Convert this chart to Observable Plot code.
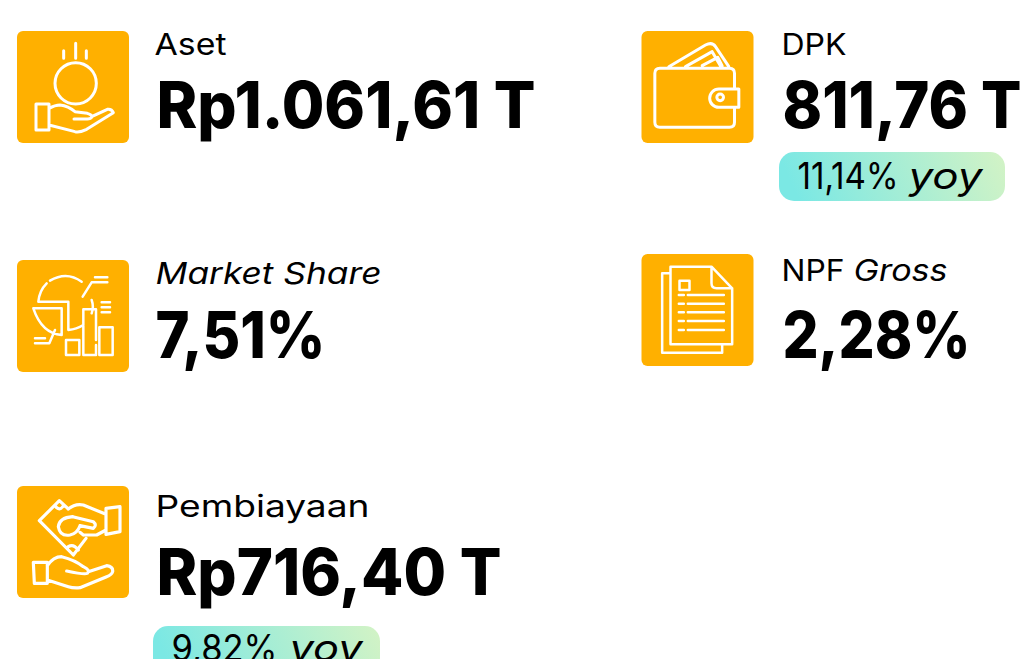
<!DOCTYPE html>
<html><head><meta charset="utf-8">
<script src="https://cdn.jsdelivr.net/npm/d3@7"></script>
<script src="https://cdn.jsdelivr.net/npm/@observablehq/plot@0.6"></script>
<style>html,body{margin:0;padding:0;background:#fff;overflow:hidden}svg{display:block}</style>
</head><body><div id="chart"></div>
<script>
// Chart content
const metrics = ["Aset", "DPK", "Market Share", "NPF", "Pembiayaan"];
const metricSuffix = ["", "", "", "Gross", ""];
const figures = ["Rp1.061,61 T", "811,76 T", "7,51%", "2,28%", "Rp716,40 T"];
const growth = [null, "11,14%", null, null, "9,82%"];
const growthUnit = "yoy";

// Page layout
const tileLeft = [17, 641.5, 17, 641.5, 17];
const tileTop = [31, 31, 260, 254, 486];
const tileSize = 112;
const labelX = [154, 781, 155, 781, 155];
const labelW = [72, 65, 226, 63, 214];
const labelBase = [54, 54, 283.5, 280, 516];
const suffixX = [0, 0, 0, 853, 0];
const suffixW = [0, 0, 0, 94, 0];
const figureX = [156, 782, 155, 782, 156];
const figureW = [379, 239, 170, 188, 345];
const figureBase = [127, 127, 357, 357, 594];
const pillTop = [0, 152, 0, 0, 626];
const pillLeft = [0, 779, 0, 0, 153];
const pillWidth = [0, 226, 0, 0, 227];
const pillHeight = 49;
const growthX = [0, 797, 0, 0, 171];
const growthW = [0, 101, 0, 0, 106];
const unitX = [0, 908, 0, 0, 289];
const unitW = [0, 74, 0, 0, 73];
const growthBase = [0, 188, 0, 0, 660];
const italicLabel = [false, false, true, false, false];

const idx = d3.range(metrics.length);
const pillIdx = idx.filter(i => growth[i]);
const font = "Inter, sans-serif";

// Icon line work, in 3x units, with the tile corner it was measured from
const icons = [
  {o:[51,33], w:9, d:"M191 92V115M227 70V115M259 92V115M289 190A62 62 0 1 1 165 190A62 62 0 1 1 289 190M108 252H147V330H108ZM147 265Q165 255 180 255Q205 258 225 275L262 280Q278 285 275 292Q272 297 262 297H222M275 290L322 268Q335 266 340 278L260 328Q240 338 225 335L147 315"},
  {o:[33,33], w:9, d:"M115 140L225 75Q245 65 255 80L295 140M165 140L245 95L270 138M215 137L262 112L275 138M312 207V160Q312 145 297 145H88Q73 145 73 160V307Q73 322 88 322H297Q312 322 312 307V262M325 207H265A27 27 0 0 0 265 262H325ZM279 232A10 10 0 1 1 259 232A10 10 0 1 1 279 232"},
  {o:[51,30], w:7.5, d:"M115 155Q118 122 140 100M150 92Q200 62 245 95M275 150Q282 170 275 190M250 225Q230 238 205 240V155H115M100 175H185V255Q125 250 100 175M248 140L275 97H322M285 82H322M305 157H330M305 172H330M305 187H330M198 270H238V315H198ZM288 270V178H250V315H288V285M298 232H338V315H298ZM105 265H135M105 280H148L165 240"},
  {o:[33,12], w:7.5, d:"M118 70H95V308H275V283M120 50H243L305 115V283H120ZM243 50V100Q243 115 258 115H305M147 92H177V120H147ZM145 135H160M172 135H280M145 161H160M172 161H280M145 187H160M172 187H280M145 213H160M172 213H280M145 240H160M172 240H280"},
  {o:[51,33], w:9.5, d:"M205 102L178 77L118 137L220 240L258 190M165 92Q178 112 192 90M205 215Q220 205 235 225M205 102Q225 85 250 90L318 118M318 100L360 95V170L318 178ZM318 165L290 180H250L240 172M218 125L280 140Q292 150 280 160L240 152M218 125Q178 128 175 155Q180 185 210 180Q232 175 240 152M240 172L250 180M100 262H142V325H103ZM142 272Q160 245 185 245Q225 255 250 275Q272 285 262 295Q255 300 200 288M265 290L320 272Q340 275 338 290Q335 300 320 305L240 338Q220 340 205 335L142 315"}
];

// Text with its drawn width fitted to the reference, since the original typeface is not installed
const textMark = (data, text, x, y, widths, opts) => Plot.text(data, {
  text, x, y, textAnchor: "start", lineAnchor: "bottom", fill: "#000", fontFamily: font, ...opts,
  render(index, scales, values, dims, ctx, next) {
    const g = next(index, scales, values, dims, ctx);
    d3.select(g).selectAll("text").each(function(_, k) {
      this.setAttribute("textLength", widths[data[index[k]]]);
      this.setAttribute("lengthAdjust", "spacingAndGlyphs");
    });
    return g;
  }
});

const chart = Plot.plot({
  width: 1027, height: 659,
  margin: 0,
  style: {background: "#fff", fontFamily: font},
  x: {domain: [0, 1027], range: [0, 1027], axis: null},
  y: {domain: [0, 659], range: [0, 659], axis: null},
  marks: [
    () => {
      const ns = "http://www.w3.org/2000/svg";
      const defs = document.createElementNS(ns, "defs");
      defs.innerHTML = `<linearGradient id="pillGrad" x1="0" x2="1" y1="0.1" y2="0"><stop offset="0" stop-color="#7be8e4"/><stop offset="1" stop-color="#d3f3c5"/></linearGradient>`;
      return defs;
    },
    Plot.rect(idx, {
      x1: i => tileLeft[i], x2: i => tileLeft[i] + tileSize,
      y1: i => tileTop[i], y2: i => tileTop[i] + tileSize,
      fill: "#ffb000", rx: 6
    }),
    (index, {x, y}) => {
      const ns = "http://www.w3.org/2000/svg";
      const g = document.createElementNS(ns, "g");
      icons.forEach((ic, i) => {
        const p = document.createElementNS(ns, "path");
        p.setAttribute("d", ic.d);
        p.setAttribute("fill", "none");
        p.setAttribute("stroke", "#fff");
        p.setAttribute("stroke-width", ic.w);
        p.setAttribute("stroke-linecap", "round");
        p.setAttribute("stroke-linejoin", "round");
        p.setAttribute("transform", `translate(${x(tileLeft[i])},${y(tileTop[i])}) scale(${1/3}) translate(${-ic.o[0]},${-ic.o[1]})`);
        g.appendChild(p);
      });
      return g;
    },
    Plot.rect(pillIdx, {
      x1: i => pillLeft[i], x2: i => pillLeft[i] + pillWidth[i],
      y1: i => pillTop[i], y2: i => pillTop[i] + pillHeight,
      fill: "url(#pillGrad)", rx: 15
    }),
    textMark(idx.filter(i => !italicLabel[i]), i => metrics[i], i => labelX[i], i => labelBase[i], labelW, {fontSize: 30, fontWeight: 400}),
    textMark(idx.filter(i => italicLabel[i]), i => metrics[i], i => labelX[i], i => labelBase[i], labelW, {fontSize: 30, fontWeight: 400, fontStyle: "italic"}),
    textMark(idx.filter(i => metricSuffix[i]), i => metricSuffix[i], i => suffixX[i], i => labelBase[i], suffixW, {fontSize: 30, fontWeight: 400, fontStyle: "italic"}),
    textMark(idx, i => figures[i], i => figureX[i], i => figureBase[i], figureW, {fontSize: 64, fontWeight: 800}),
    textMark(pillIdx, i => growth[i], i => growthX[i], i => growthBase[i], growthW, {fontSize: 37, fontWeight: 400}),
    textMark(pillIdx, () => growthUnit, i => unitX[i], i => growthBase[i], unitW, {fontSize: 37, fontWeight: 400, fontStyle: "italic"})
  ]
});
document.getElementById("chart").append(chart);
</script></body></html>
